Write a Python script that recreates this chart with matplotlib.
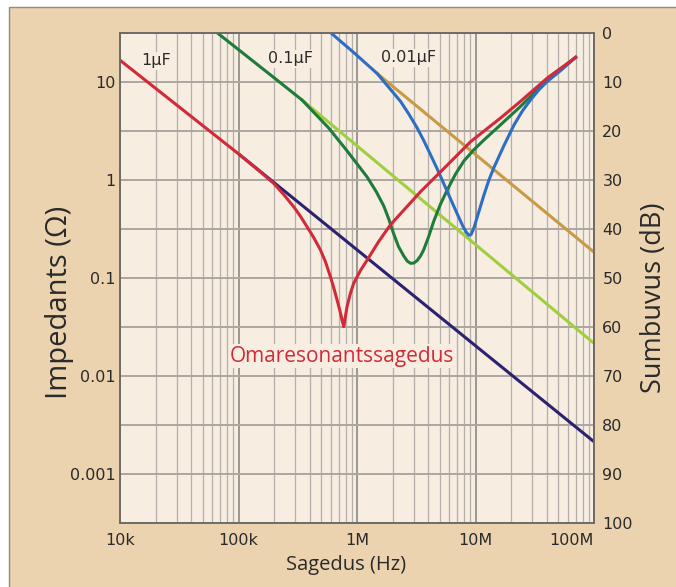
import numpy as np
import matplotlib.pyplot as plt
from matplotlib.ticker import LogLocator, NullFormatter
from matplotlib.patches import Rectangle

# values: frequency in Hz, impedance in ohm
red_f = [1.0e4, 1.03e5, 1.431e5, 1.98e5, 2.401e5, 2.92e5, 3.324e5, 3.78e5,
         4.306e5, 4.91e5, 5.41e5, 5.96e5, 6.35e5, 6.79e5, 7.13e5, 7.48e5,
         7.73e5, 8.24e5, 8.79e5, 9.38e5, 1.069e6, 1.22e6, 1.517e6, 1.91e6,
         3.44e6, 5.07e6, 9.10e6, 1.63e7, 2.40e7, 4.05e7, 7.01e7]
red_z = [16.8, 1.81, 1.304, 0.931, 0.718, 0.538, 0.431, 0.337,
         0.2615, 0.195, 0.1484, 0.104, 0.0809, 0.0601, 0.0481, 0.0375,
         0.0321, 0.0513, 0.0700, 0.0889, 0.120, 0.154, 0.235, 0.350,
         0.766, 1.22, 2.48, 4.33, 6.40, 11.1, 18.0]

navy_f = [1.03e5, 1.0e8]
navy_z = [1.81, 0.00215]

dgreen_f = [6.70e4, 1.85e5, 3.44e5, 5.765e5, 8.136e5, 1.217e6, 1.459e6, 1.682e6,
            1.854e6, 2.043e6, 2.239e6, 2.482e6, 2.652e6, 2.828e6, 3.015e6,
            3.221e6, 3.435e6, 3.663e6, 4.014e6, 4.450e6, 5.070e6, 5.776e6,
            6.788e6, 7.980e6, 9.638e6, 1.178e7, 1.630e7, 2.406e7, 4.046e7, 7.01e7]
dgreen_z = [31.6, 11.97, 6.59, 3.42, 2.038, 1.081, 0.7596, 0.5468,
            0.4028, 0.2831, 0.2111, 0.1689, 0.1501, 0.1422, 0.1432,
            0.1519, 0.1689, 0.1967, 0.2639, 0.3842, 0.573, 0.7962,
            1.16, 1.573, 2.038, 2.578, 3.692, 5.69, 10.63, 18.0]

lgreen_f = [3.44e5, 1.0e8]
lgreen_z = [6.59, 0.0217]

blue_f = [6.076e5, 9.378e5, 1.479e6, 2.328e6, 2.735e6, 3.221e6, 3.663e6, 4.173e6,
          4.755e6, 5.776e6, 7.018e6, 7.780e6, 8.328e6, 8.795e6, 9.180e6,
          9.694e6, 1.062e7, 1.178e7, 1.298e7, 1.431e7, 1.739e7, 2.112e7,
          2.486e7, 2.923e7, 3.415e7, 4.046e7, 5.241e7, 7.01e7]
blue_z = [31.6, 20.14, 12.3, 6.4, 4.749, 3.418, 2.536, 1.825,
          1.304, 0.7685, 0.4529, 0.3457, 0.2968, 0.2747, 0.2799,
          0.3262, 0.4691, 0.7079, 1.007, 1.351, 2.265, 3.667,
          5.095, 6.643, 8.344, 10.24, 13.19, 18.0]

orange_f = [1.479e6, 1.0e8]
orange_z = [12.3, 0.185]

x_ticks = [1e4, 1e5, 1e6, 1e7, 1e8]
x_labels = ['10k', '100k', '1M', '10M', '100M']
y_ticks = [1e-3, 1e-2, 1e-1, 1, 10]
y_labels = ['0.001', '0.01', '0.1', '1', '10']
y_half = [10**-2.5, 10**-1.5, 10**-0.5, 10**0.5]
db_ticks = list(range(0, 101, 10))

cap_labels = ['1µF', '0.1µF', '0.01µF']
cap_pos = [(2.0e4, 16.5), (2.74e5, 17.3), (2.72e6, 17.7)]

plot_bg = '#f7ede1'
panel_bg = '#ecd3b0'
ink = '#2a2a2a'

W, H = 676, 587
fig = plt.figure(figsize=(W / 100, H / 100), dpi=100)
fig.patch.set_facecolor('white')
fig.add_artist(Rectangle((9 / W, -0.01), 1.0, 1.01 - 7 / H, transform=fig.transFigure,
                         facecolor=panel_bg, edgecolor='#8f8a85', lw=1, zorder=-10))

ax = fig.add_axes([120 / W, 1 - 523.3 / H, 474 / W, 490 / H])
ax.set_facecolor(plot_bg)
ax.set_xscale('log')
ax.set_yscale('log')
ax.set_xlim(1e4, 1e8)
ax.set_ylim(10**-3.5, 10**1.5)

ax.set_xticks(x_ticks, x_labels)
ax.xaxis.set_minor_locator(LogLocator(base=10, subs=np.arange(2, 10), numticks=30))
ax.xaxis.set_minor_formatter(NullFormatter())
ax.set_yticks(y_ticks, y_labels)
ax.set_yticks(y_half, minor=True)
ax.yaxis.set_minor_formatter(NullFormatter())

ax.grid(which='major', axis='x', color='#8a8783', lw=1.2)
ax.grid(which='minor', axis='x', color='#b4afaa', lw=0.9)
ax.grid(which='both', axis='y', color='#aca7a2', lw=1.4)
ax.set_axisbelow(True)
ax.tick_params(which='both', length=0)
ax.tick_params(axis='x', pad=7, labelsize=11.5, labelcolor=ink)
ax.tick_params(axis='y', pad=3, labelsize=11.5, labelcolor=ink)
ax.get_xticklabels()[-1].set_horizontalalignment('right')

ax.plot(navy_f, navy_z, color='#2b2270', lw=2.2, zorder=2)
ax.plot(lgreen_f, lgreen_z, color='#9fcf3e', lw=2.2, zorder=2)
ax.plot(orange_f, orange_z, color='#c99a45', lw=2.2, zorder=2)
ax.plot(dgreen_f, dgreen_z, color='#1f7b3b', lw=2.2, zorder=3)
ax.plot(blue_f, blue_z, color='#2d6ec4', lw=2.2, zorder=3)
ax.plot(red_f, red_z, color='#d22a38', lw=2.2, zorder=4)

for txt, (fx, zy) in zip(cap_labels, cap_pos):
    ax.text(fx, zy, txt, ha='center', va='center', fontsize=11.5, color=ink, zorder=5,
            bbox=dict(facecolor=plot_bg, edgecolor='none', pad=1))
ax.text(7.53e5, 0.0161, 'Omaresonantssagedus', ha='center', va='center',
        fontsize=15, color='#d22a38', family=['Open Sans', 'DejaVu Sans'], zorder=5,
        bbox=dict(facecolor=plot_bg, edgecolor='none', pad=1))

ax2 = ax.twinx()
ax2.set_ylim(100, 0)
ax2.set_yticks(db_ticks)
ax2.tick_params(length=0, pad=6, labelsize=11.5, labelcolor=ink)

for a in (ax, ax2):
    for s in a.spines.values():
        s.set_color('#6e6a66')
        s.set_linewidth(1.2)

fig.text(60 / W, 1 - 302 / H, 'Impedants (Ω)', rotation=90, ha='center', va='center',
         fontsize=21, color=ink, family=['Open Sans', 'DejaVu Sans'])
fig.text(654 / W, 1 - 298 / H, 'Sumbuvus (dB)', rotation=90, ha='center', va='center',
         fontsize=19.5, color=ink, family=['Open Sans', 'DejaVu Sans'])
fig.text(346 / W, 1 - 565 / H, 'Sagedus (Hz)', ha='center', va='center',
         fontsize=14.5, color=ink, family=['Open Sans', 'DejaVu Sans'])

fig.savefig('out.png', dpi=100, facecolor=fig.get_facecolor())
